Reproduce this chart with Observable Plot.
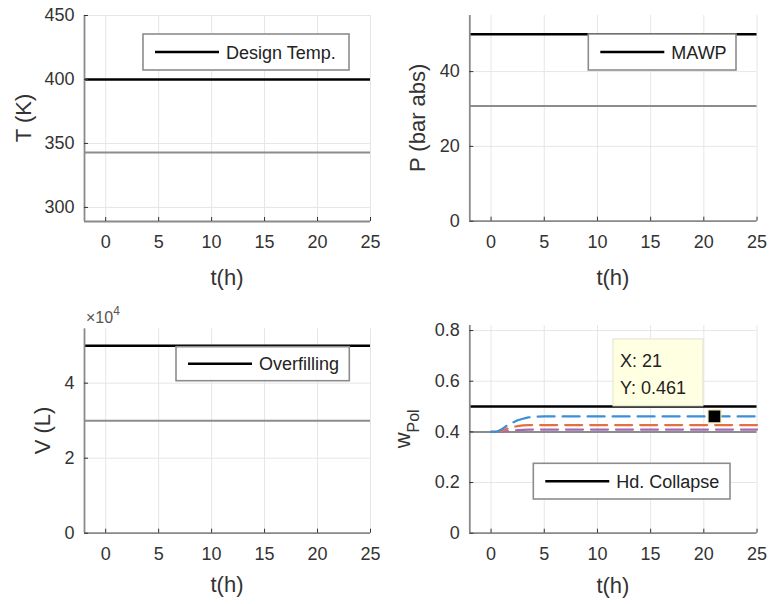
<!DOCTYPE html>
<html>
<head>
<meta charset="utf-8">
<script src="https://cdn.jsdelivr.net/npm/d3@7"></script>
<script src="https://cdn.jsdelivr.net/npm/@observablehq/plot@0.6"></script>
<style>
  body { margin: 0; background: #fff; }
  #fig { position: relative; width: 771px; height: 604px; font-family: "Liberation Sans", Arial, sans-serif; }
  #fig svg { position: absolute; overflow: visible; }
</style>
</head>
<body>
<div id="fig"></div>
<script>
// Time axis shared by all four panels (hours)
const timeSpan = [-2, 25];
const timeTicks = [0, 5, 10, 15, 20, 25];

// Temperature (K)
const tempTicks = [300, 350, 400, 450];
const tempValue = 343;
const designTemp = 400;

// Pressure (bar abs)
const pressTicks = [0, 20, 40];
const pressValue = 30.8;
const mawp = 50;

// Liquid volume (L)
const volTicks = [0, 20000, 40000];
const volValue = 30000;
const overfillLimit = 50000;

// Polymer mass fraction
const wTicks = [0, 0.2, 0.4, 0.6, 0.8];
const wInitial = 0.4;
const hdCollapse = 0.5;
const wTime   = [0, 0.5, 1, 1.5, 2, 2.5, 3, 3.5, 4, 5, 10, 15, 20, 25];
const wBlue   = [0.4, 0.4, 0.41, 0.425, 0.436, 0.446, 0.452, 0.457, 0.46, 0.461, 0.461, 0.461, 0.461, 0.461];
const wOrange = [0.4, 0.4, 0.404, 0.412, 0.419, 0.423, 0.426, 0.427, 0.427, 0.427, 0.427, 0.427, 0.427, 0.427];
const wPurple = [0.4, 0.4, 0.401, 0.403, 0.405, 0.407, 0.408, 0.409, 0.409, 0.409, 0.409, 0.409, 0.409, 0.409];

// Data cursor
const tipX = 21;
const tipY = 0.461;

const FONT = '"Liberation Sans", Arial, sans-serif';
const AXIS = "#8a8a8a";
const INK = "#333333";
const GRID = "#e6e6e6";

function panel(o) {
  const innerW = o.width - o.ml - o.mr;
  const innerH = o.height - o.mt - o.mb;
  const plot = Plot.plot({
    width: o.width,
    height: o.height,
    marginLeft: o.ml, marginRight: o.mr, marginTop: o.mt, marginBottom: o.mb,
    x: {type: "linear", domain: timeSpan},
    y: {type: "linear", domain: o.yDomain},
    style: {fontFamily: FONT, fontSize: "18px", color: INK, background: "transparent", overflow: "visible"},
    marks: [
      Plot.gridX(timeTicks, {stroke: GRID, strokeOpacity: 1, strokeWidth: 1}),
      Plot.gridY(o.yTicks, {stroke: GRID, strokeOpacity: 1, strokeWidth: 1}),
      ...o.marks,
      Plot.ruleX([timeSpan[0]], {stroke: AXIS, strokeWidth: 1.8}),
      Plot.ruleY([o.yDomain[0]], {stroke: AXIS, strokeWidth: 1.8}),
      Plot.tickX(timeTicks, {x: d => d, stroke: INK, strokeWidth: 1, insetTop: innerH - 4}),
      Plot.tickY(o.yTicks, {y: d => d, stroke: INK, strokeWidth: 1, insetRight: innerW - 4}),
      Plot.axisX(timeTicks, {tickSize: 0, tickPadding: 14, label: null, fill: INK}),
      Plot.axisY(o.yTicks, {tickSize: 0, tickPadding: 10, label: null, tickFormat: o.yFormat || (d => String(d)), fill: INK}),
      ...(o.overMarks || [])
    ]
  });
  plot.style.left = o.left + "px";
  plot.style.top = o.top + "px";
  const svg = d3.select(plot);

  // x-axis title
  svg.append("text")
    .attr("x", o.ml + innerW / 2)
    .attr("y", o.mt + innerH + o.xLabelGap)
    .attr("text-anchor", "middle")
    .attr("font-family", FONT).attr("font-size", 22).attr("fill", INK)
    .text("t(h)");

  // y-axis title (rotated)
  const yl = svg.append("text")
    .attr("transform", `translate(${o.yLabelX},${o.mt + innerH / 2}) rotate(-90)`)
    .attr("text-anchor", "middle")
    .attr("font-family", FONT).attr("font-size", 22).attr("fill", INK);
  if (o.ySub) {
    yl.append("tspan").text(o.yLabel);
    yl.append("tspan").attr("font-size", 16).attr("dy", 9).text(o.ySub);
  } else {
    yl.text(o.yLabel);
  }

  // legend
  const L = o.legend;
  const g = svg.append("g");
  g.append("rect")
    .attr("x", L.x).attr("y", L.y).attr("width", L.w).attr("height", L.h)
    .attr("fill", "white").attr("stroke", "#8c8c8c").attr("stroke-width", 1.6);
  g.append("line")
    .attr("x1", L.x + 12).attr("x2", L.x + 76)
    .attr("y1", L.y + L.h / 2).attr("y2", L.y + L.h / 2)
    .attr("stroke", "black").attr("stroke-width", 2.5);
  g.append("text")
    .attr("x", L.x + 83).attr("y", L.y + L.h / 2 + 6.5)
    .attr("text-anchor", "start")
    .attr("font-family", FONT).attr("font-size", 18).attr("fill", "#222")
    .text(L.label);

  document.getElementById("fig").appendChild(plot);
  return {plot, svg};
}

// Temperature
panel({
  left: 0, top: 0, width: 385, height: 300, ml: 84, mr: 15, mt: 15, mb: 79,
  yDomain: [289, 450], yTicks: tempTicks,
  yLabel: "T (K)", yLabelX: 31, xLabelGap: 64,
  marks: [
    Plot.ruleY([tempValue], {stroke: "#8c8c8c", strokeWidth: 2}),
    Plot.ruleY([designTemp], {stroke: "black", strokeWidth: 2.5})
  ],
  legend: {x: 143, y: 34, w: 206, h: 36, label: "Design Temp."}
});

// Pressure
panel({
  left: 385, top: 0, width: 386, height: 300, ml: 84.3, mr: 14.5, mt: 15, mb: 79.3,
  yDomain: [0, 55], yTicks: pressTicks,
  yLabel: "P (bar abs)", yLabelX: 39.5, xLabelGap: 64,
  marks: [
    Plot.ruleY([pressValue], {stroke: "#8c8c8c", strokeWidth: 2}),
    Plot.ruleY([mawp], {stroke: "black", strokeWidth: 2.5})
  ],
  legend: {x: 203.3, y: 34, w: 147.7, h: 36, label: "MAWP"}
});

// Volume
const vol = panel({
  left: 0, top: 300, width: 385, height: 304, ml: 84, mr: 15, mt: 28.3, mb: 71.3,
  yDomain: [0, 54500], yTicks: volTicks, yFormat: d => String(d / 1e4),
  yLabel: "V (L)", yLabelX: 50, xLabelGap: 59,
  marks: [
    Plot.ruleY([volValue], {stroke: "#8c8c8c", strokeWidth: 2}),
    Plot.ruleY([overfillLimit], {stroke: "black", strokeWidth: 2.5})
  ],
  legend: {x: 176, y: 46.7, w: 173.3, h: 34, label: "Overfilling"}
});
// axis exponent
const ex = vol.svg.append("text")
  .attr("x", 86).attr("y", 23)
  .attr("text-anchor", "start")
  .attr("font-family", FONT).attr("font-size", 16).attr("fill", "#555");
ex.append("tspan").text("\u00d710");
ex.append("tspan").attr("font-size", 12).attr("dy", -8).text("4");

// Polymer fraction
const seriesRows = (vals) => wTime.map((t, i) => ({t, w: vals[i]}));
const dash = {strokeWidth: 2.2, strokeDasharray: "17,8"};
const wp = panel({
  left: 385, top: 300, width: 386, height: 304, ml: 84.3, mr: 14.5, mt: 25, mb: 71.3,
  yDomain: [0, 0.82], yTicks: wTicks, yFormat: d => (d === 0 ? "0" : d3.format(".1f")(d)),
  yLabel: "w", ySub: "Pol", yLabelX: 25, xLabelGap: 60,
  marks: [
    Plot.ruleY([wInitial], {stroke: "#8c8c8c", strokeWidth: 2}),
    Plot.line(seriesRows(wPurple), {x: "t", y: "w", stroke: "#a46bb4", ...dash}),
    Plot.line(seriesRows(wOrange), {x: "t", y: "w", stroke: "#e5703e", ...dash}),
    Plot.line(seriesRows(wBlue), {x: "t", y: "w", stroke: "#3a8fd8", ...dash}),
    Plot.ruleY([hdCollapse], {stroke: "black", strokeWidth: 2.5})
  ],
  overMarks: [
    Plot.dot([{t: tipX, w: tipY}], {x: "t", y: "w", symbol: "square", r: 7.3, fill: "black", stroke: "#f3eeb4", strokeWidth: 1.2})
  ],
  legend: {x: 148.3, y: 163.3, w: 196.7, h: 35.7, label: "Hd. Collapse"}
});

// data cursor box
{
  const mx = wp.plot.scale("x").apply(tipX);
  const my = wp.plot.scale("y").apply(tipY);
  const tip = wp.svg.append("g").attr("text-anchor", "start");
  tip.append("rect")
    .attr("x", mx - 101).attr("y", my - 77).attr("width", 90).attr("height", 67)
    .attr("fill", "#ffffe1").attr("stroke", "#e2e2cf").attr("stroke-width", 1);
  tip.append("text")
    .attr("x", mx - 94).attr("y", my - 48.5)
    .attr("font-family", FONT).attr("font-size", 18).attr("fill", "#222")
    .text(`X: ${tipX}`);
  tip.append("text")
    .attr("x", mx - 94).attr("y", my - 21.5)
    .attr("font-family", FONT).attr("font-size", 18).attr("fill", "#222")
    .text(`Y: ${tipY}`);
}
</script>
</body>
</html>
